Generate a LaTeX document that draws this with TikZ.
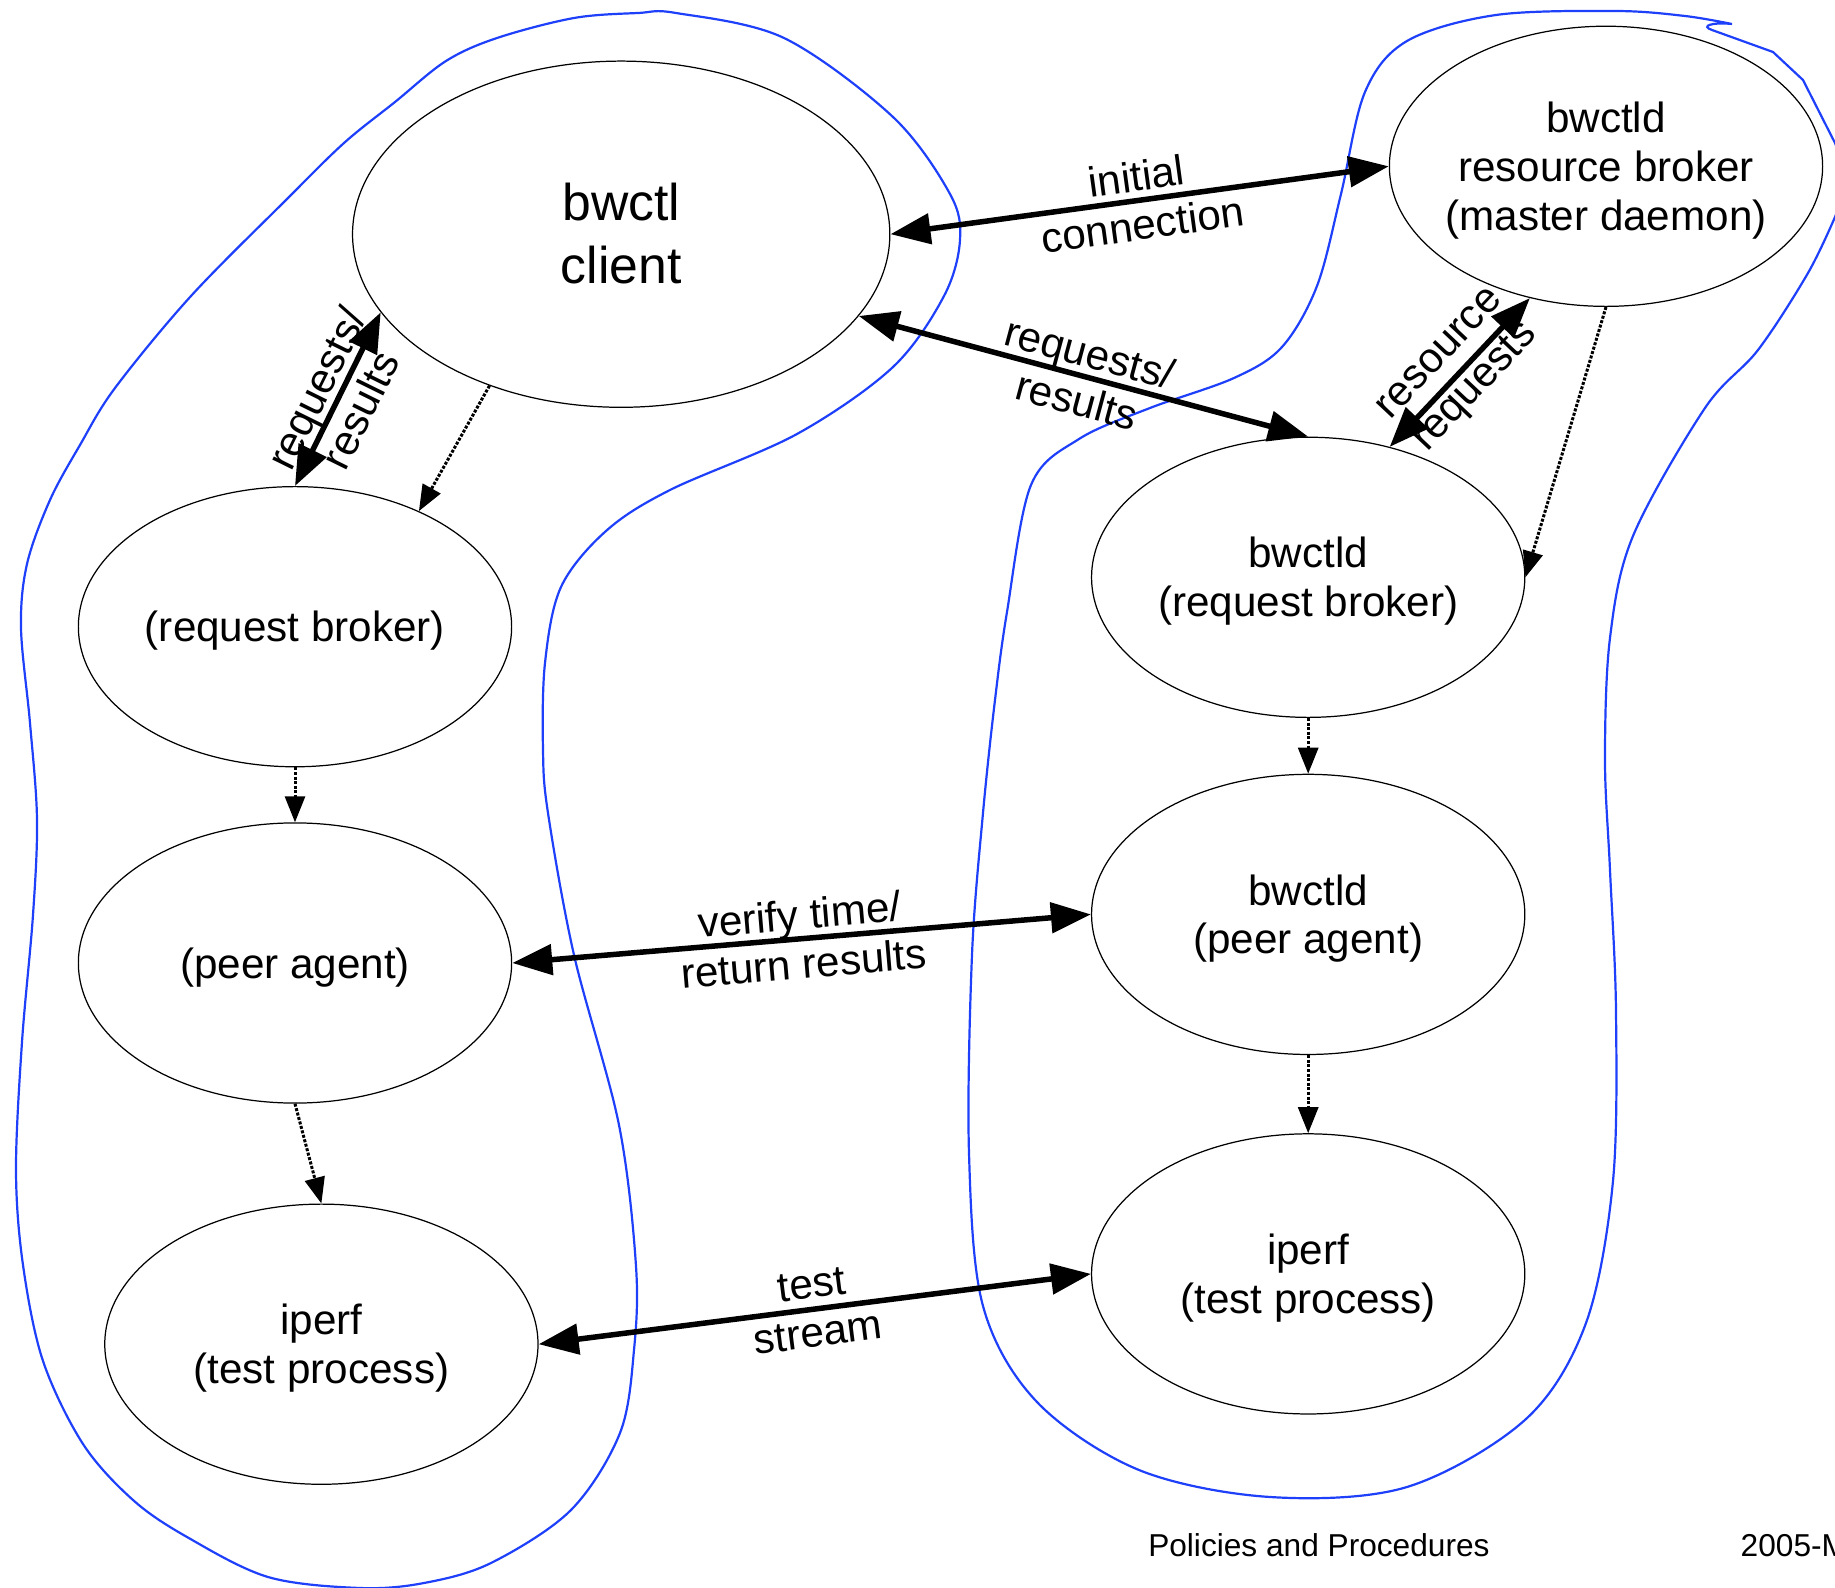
\documentclass[tikz,border=0pt]{standalone}
\usepackage{fontspec}
\setmainfont{Liberation Sans}
\usetikzlibrary{arrows.meta,shapes.geometric}
\definecolor{blobblue}{RGB}{30,64,250}
\newcommand{\elltext}[1]{\raisebox{-1.5pt}[\height][\depth]{\makebox[0pt]{\begin{tabular}{@{}c@{}}#1\end{tabular}}}}
\begin{document}
\begin{tikzpicture}[x=0.01cm,y=-0.01cm,
  ell/.style={draw=black, line width=0.35pt, ellipse, inner sep=0pt,
    minimum width=4.33cm, minimum height=2.80cm,
    font=\fontsize{12}{13.9}\selectfont},
  bigell/.style={ell, minimum width=5.37cm, minimum height=3.46cm,
    font=\fontsize{14.7}{17.9}\selectfont},
  thickarrow/.style={line width=0.055cm,
    {Triangle[length=0.40cm,width=0.30cm]}-{Triangle[length=0.40cm,width=0.30cm]}},
  dotarrow/.style={line width=0.03cm, dash pattern=on 0.03cm off 0.016cm,
    -{Triangle[length=0.26cm,width=0.20cm]}},
  lbl/.style={sloped, midway, align=center, inner sep=0pt,
    font=\fontsize{12}{13.9}\selectfont},
  blob/.style={draw=blobblue, line width=0.022cm},
  foot/.style={font=\fontsize{9}{10.8}\selectfont, inner sep=0pt}
]
\useasboundingbox (0,0) rectangle (1835,1588);

% blue groupings
\draw[blob] plot[smooth cycle, tension=0.55] coordinates {
 (574,18) (638,13) (676,13) (784,38) (893,117) (950,194) (960,240) (944,296)
 (893,367) (797,434) (670,490) (606,531) (561,587) (545,663) (543,750)
 (548,813) (574,955) (619,1125) (636,1266) (634,1350) (620,1433) (571,1510)
 (491,1563) (424,1583) (360,1588) (268,1577) (187,1537) (133,1500) (83,1444)
 (43,1361) (23,1265) (16,1170) (22,1042) (33,915) (37,819) (30,723) (21,628)
 (27,564) (50,500) (80,445)
 (115,388) (191,296) (287,199) (344,143) (395,102) (446,61) (497,38)};

\draw[blob] plot[smooth, tension=0.55] coordinates {
 (1835,217) (1808,273) (1758,350) (1705,408) (1633,536) (1610,638) (1605,760)
 (1610,870) (1616,1011) (1613,1181) (1586,1323) (1526,1419) (1407,1487)
 (1270,1497) (1139,1470) (1037,1402) (983,1306) (969,1153) (972,955) (983,813)
 (995,700) (1007,612) (1031,485) (1079,439) (1150,408) (1234,378) (1282,347)
 (1317,286) (1341,194) (1365,92) (1407,41) (1496,15) (1616,11) (1685,16) (1732,24)}
 .. controls (1712,22) and (1700,26) .. (1712,30) -- (1773,52) -- (1803,80)
 -- (1835,143) -- (1850,180) -- cycle;

% nodes
\node[bigell] (client) at (621.2,234.2) {\elltext{bwctl\\client}};
\node[ell] (master) at (1606,166.3) {\elltext{bwctld\\resource broker\\(master daemon)}};
\node[ell] (lrb) at (295,626.7) {\elltext{(request broker)}};
\node[ell] (lpa) at (295,963) {\elltext{(peer agent)}};
\node[ell] (lip) at (321.4,1344.2) {\elltext{iperf\\(test process)}};
\node[ell] (rrb) at (1308.2,577.3) {\elltext{bwctld\\(request broker)}};
\node[ell] (rpa) at (1308.2,914.4) {\elltext{bwctld\\(peer agent)}};
\node[ell] (rip) at (1308.2,1273.9) {\elltext{iperf\\(test process)}};

% thick two-way arrows
\draw[thickarrow] (client.east) -- node[lbl]{initial\\connection} (master.west);
\draw[thickarrow] (client.-19.9) -- node[lbl]{requests/\\results} (rrb.north);
\draw[thickarrow] (lrb.north) -- node[lbl]{requests/\\results} (client.198.1);
\draw[thickarrow] (rrb.58.3) -- node[lbl]{resource\\requests} (master.240.1);
\draw[thickarrow] (lpa.east) -- node[lbl]{verify time/\\return results} (rpa.west);
\draw[thickarrow] (lip.east) -- node[lbl]{test\\stream} (rip.west);

% dotted arrows
\draw[dotarrow] (client.229.2) -- (lrb.43);
\draw[dotarrow] (lrb.south) -- (lpa.north);
\draw[dotarrow] (lpa.south) -- (lip.north);
\draw[dotarrow] (master.south) -- (rrb.east);
\draw[dotarrow] (rrb.south) -- (rpa.north);
\draw[dotarrow] (rpa.south) -- (rip.north);

% footer
\node[foot, anchor=base] (foot1) at (1318.9,1556) {Policies and Procedures};
\node[foot, anchor=base west] (foot2) at (1740,1556) {2005-M};
\end{tikzpicture}
\end{document}
